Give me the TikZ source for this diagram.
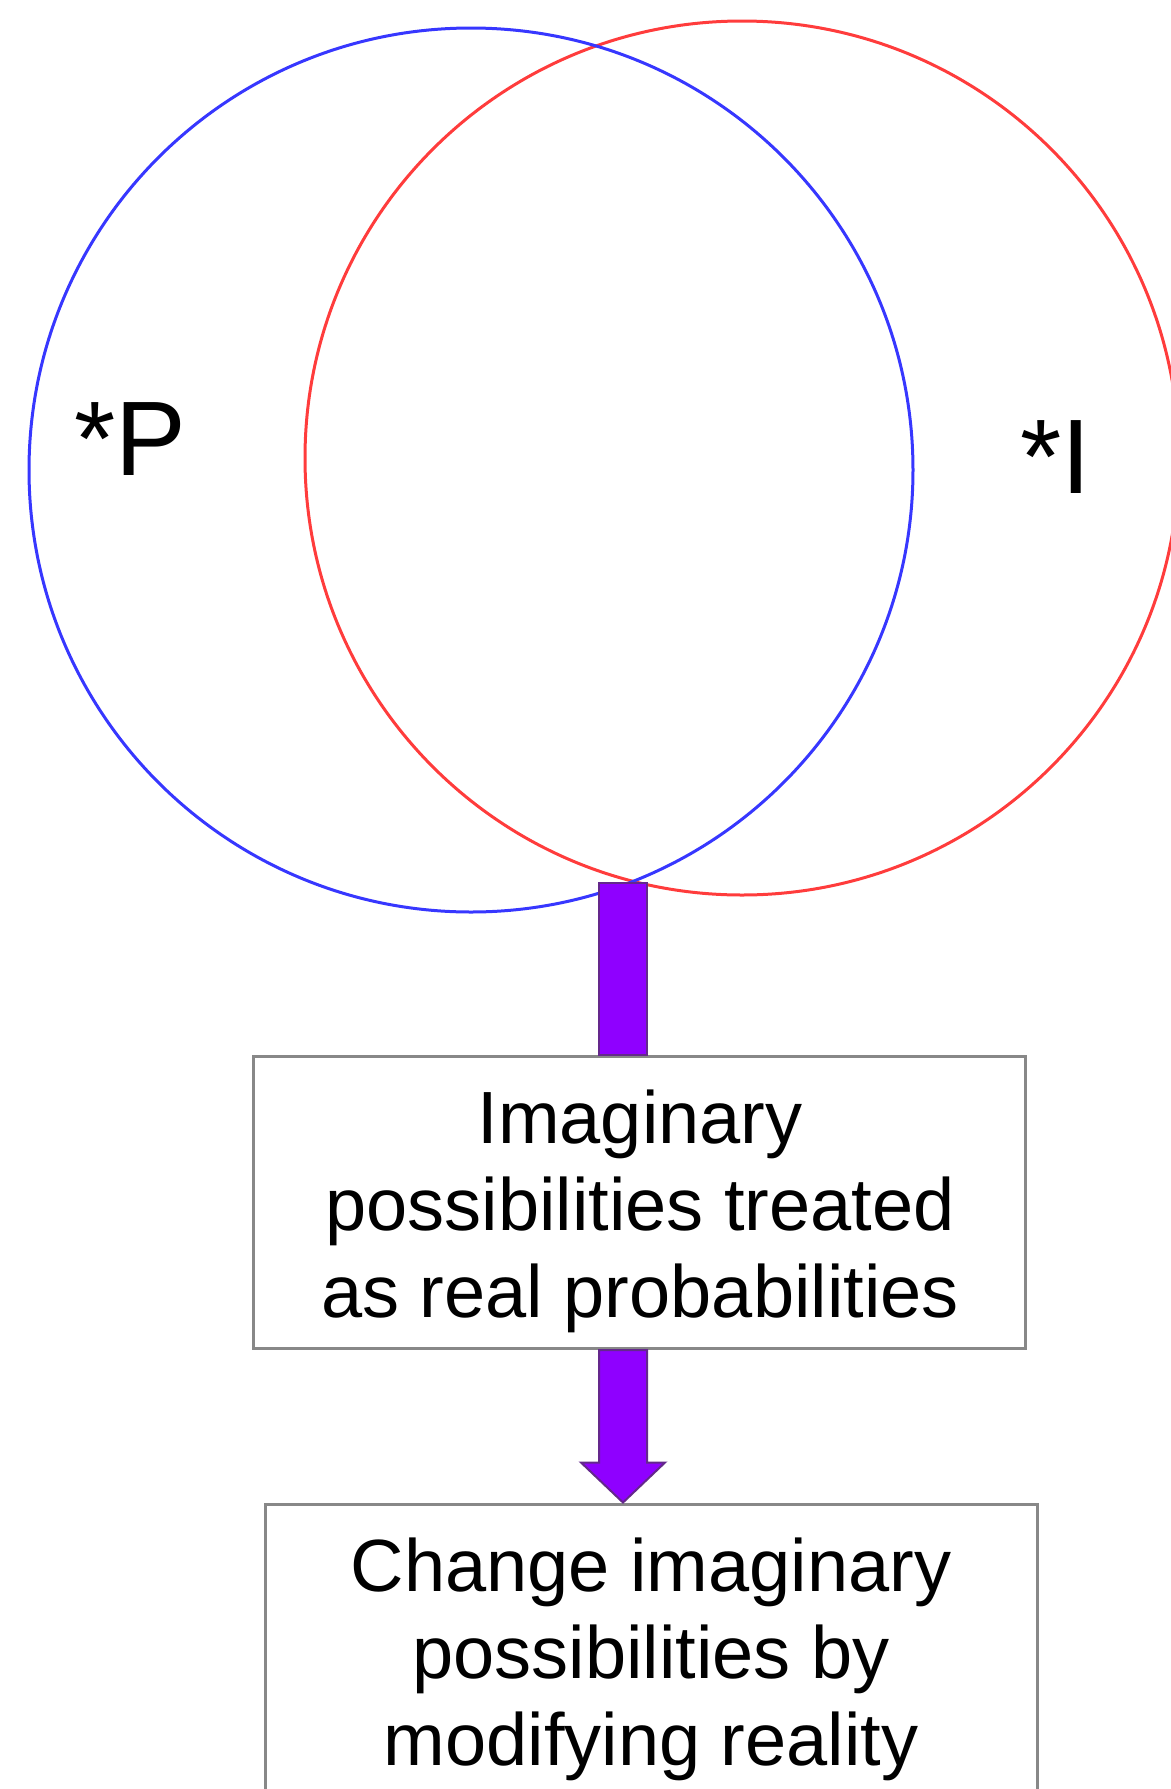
\documentclass[tikz,border=0pt]{standalone}
\usepackage{fontspec}
\setmainfont{Liberation Sans}
\usetikzlibrary{calc}
\definecolor{pblue}{RGB}{55,55,255}
\definecolor{pred}{RGB}{255,60,60}
\definecolor{pviolet}{RGB}{143,0,255}
\definecolor{pvedge}{RGB}{100,40,140}
\definecolor{boxgray}{RGB}{136,136,136}
\begin{document}
\begin{tikzpicture}[x=0.5pt,y=-0.5pt,
  setcircle/.style={circle, draw, line width=1.5pt, inner sep=0pt},
  textbox/.style={rectangle, draw=boxgray, line width=1.5pt, minimum width=386pt, minimum height=146pt, inner sep=0pt},
  boxtext/.style={inner sep=0pt, align=center, font=\fontsize{37}{43.5}\selectfont},
  setlabel/.style={anchor=base, inner sep=0pt, font=\fontsize{53}{60}\selectfont},
  barstyle/.style={fill=pviolet, draw=pvedge, line width=1pt}]
\useasboundingbox (0,0) rectangle (1171,1789);
\node[setcircle, draw=pred, minimum size=437pt] (iset) at (742,458) {};
\node[setcircle, draw=pblue, minimum size=442pt] (pset) at (471,470) {};
\node[setlabel] (labP) at (130,475) {*P};
\node[setlabel] (labI) at (1056,493) {*I};
\node[textbox] (box1) at (639,1202.5) {};
\node[textbox] (box2) at (651,1650) {};
\node[boxtext] (text1) at ($(box1.center)+(1,9)$) {Imaginary\\possibilities treated\\as real probabilities};
\node[boxtext] (text2) at ($(box2.center)+(0,9)$) {Change imaginary\\possibilities by\\modifying reality};
\coordinate (meet) at (623,883);
\coordinate (a1) at (meet |- box1.south);
\coordinate (a2) at (meet |- box2.north);
\filldraw[barstyle] ($(meet)+(-24,0)$) rectangle ($(meet |- box1.north)+(24,0)$);
\filldraw[barstyle] ($(a1)+(-24,0)$) -- ($(a2)+(-24,-40)$) -- ($(a2)+(-42,-40)$) -- (a2) -- ($(a2)+(42,-40)$) -- ($(a2)+(24,-40)$) -- ($(a1)+(24,0)$) -- cycle;
\end{tikzpicture}
\end{document}
